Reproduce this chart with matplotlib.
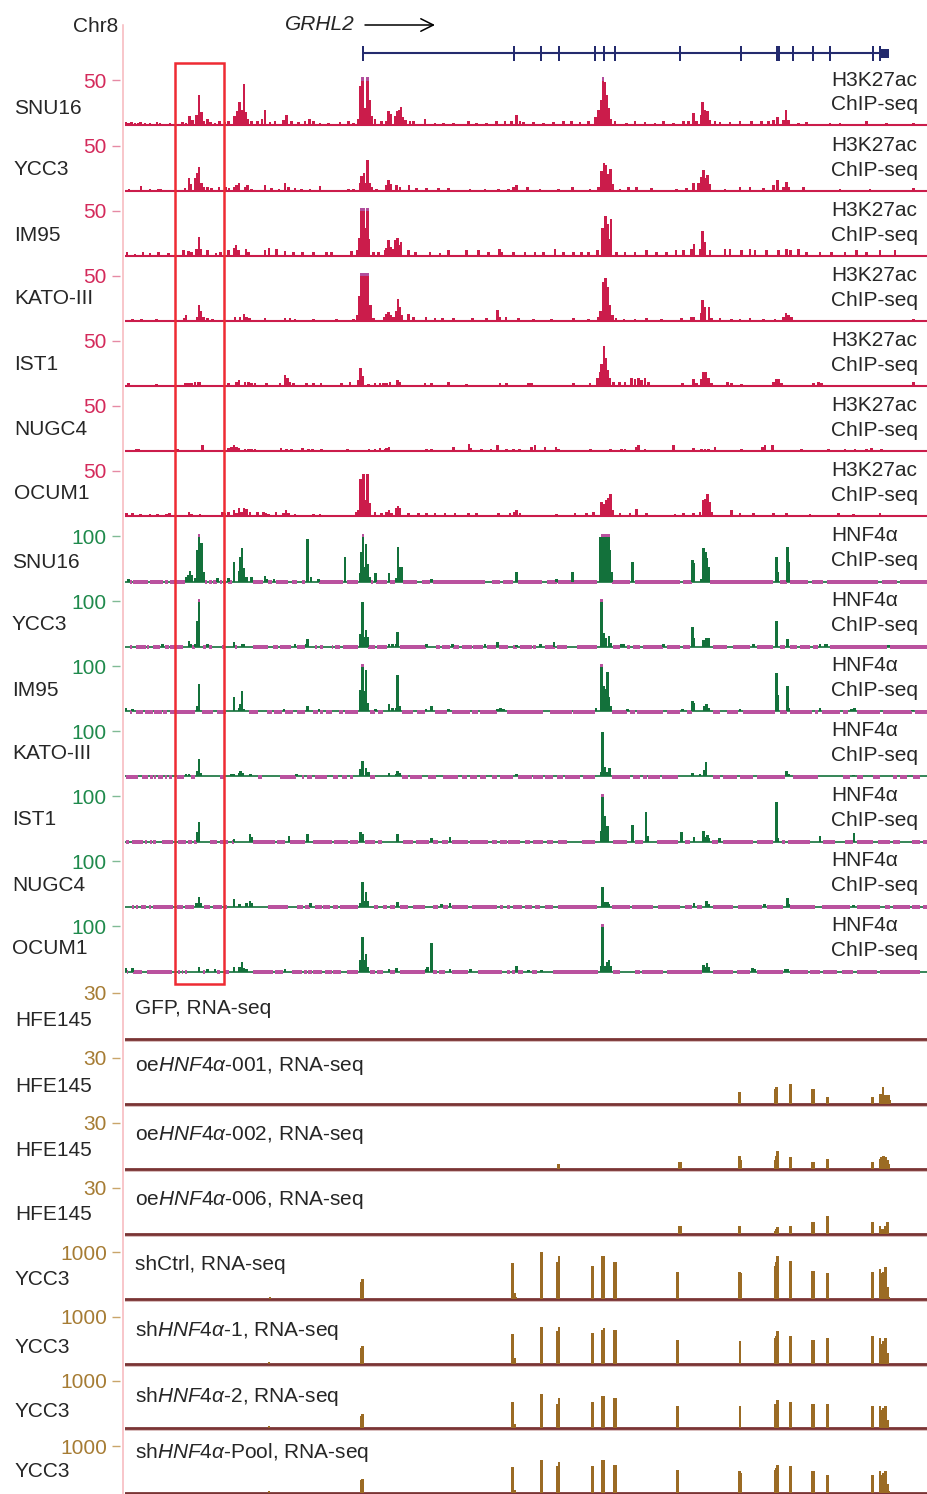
import matplotlib
matplotlib.use("Agg")
import matplotlib.pyplot as plt
from matplotlib.lines import Line2D
from matplotlib.patches import Rectangle

plt.rcParams['font.family'] = ['Liberation Sans', 'DejaVu Sans']
plt.rcParams['mathtext.fontset'] = 'custom'
plt.rcParams['mathtext.rm'] = 'Liberation Sans'
plt.rcParams['mathtext.it'] = 'Liberation Sans:italic'

# positions are in kb from the left edge of the window, values in track units
GENE_START, GENE_END = 119, 381
EXON_POS = [119, 194.5, 208, 217, 235, 239.5, 245, 277.5, 308, 326.5, 334, 344, 352.5, 374, 377.5]
EXON_W = [1, 1, 1, 1, 1, 1, 1, 1, 1, 2, 1, 1, 1, 1, 1]
UTR_END = (378, 382)
BOX = (24.75, 49.5)

# H3K27ac ChIP-seq (scale 50)
K27_SNU16 = [(0.5,3),(1.7,2),(3.3,3),(5,2),(6.7,2),(7.8,3),(10,2),(12.5,2),(16,3),(17.5,2),(22.5,2),(28.8,3),(30.5,2),(32.2,10),(33.8,6),(35.8,11),(37,33),(38.3,14),(39.2,4),(41.2,7),(42.8,3),(45,2),(47.2,4),(50,3),(51.7,4),(54.7,10),(56,16),(57.2,26),(58.5,17),(59.5,46),(60.3,14),(61.5,7),(63.3,4),(66.2,4),(68.5,7),(70,17),(72.5,3),(75,5),(79.2,6),(80.8,11),(83.3,4),(86.7,3),(90,4),(92.2,7),(94.2,4),(97.5,2),(101.7,2),(107.5,3),(111.7,4),(114.2,2),(116.7,7),(117.7,43),(118.8,60),(120.2,19),(121.3,60),(122.3,28),(123.2,10),(125,7),(128.3,4),(130.8,4),(131.8,16),(132.8,12),(135,10),(136,15),(137,17),(138,20),(139,9),(140.2,6),(142.5,4),(144.2,4),(150,7),(155,2),(159.2,2),(164.2,2),(171.7,4),(175.8,2),(180.8,2),(185.8,4),(190,4),(193.3,4),(195.8,11),(197.5,4),
             (199.2,3),(204.2,3),(209.2,2),(214.2,3),(219.2,4),(223.3,4),(227.5,3),(231.7,4),(235.2,9),(236.8,17),(238,28),(239,56),(240,48),(241,33),(242,19),(243,7),(245,4),(250.8,2),(255,4),(260,3),(265,2),(269.2,4),(274.2,2),(279.2,4),(281.7,4),(284.2,13),(285.8,4),(288,11),(288.8,25),(290,17),(291.3,15),(292.5,6),(295,4),(297.5,3),(302.5,3),(307.5,4),(313.3,4),(318.3,4),(321.7,4),(324.2,6),(326.2,9),(329.2,6),(330.5,17),(331.7,6),(336.7,2),(340.8,3),(352.5,2),(357.5,2),(370.8,4),(380.8,2),(394.2,2)]
K27_YCC3 = [(2,2),(8,5),(12.5,2),(16.7,2),(18,2),(30,3),(32,14),(33,7),(35,14),(36,20),(37,26),(38.3,9),(39.5,4),(41.2,4),(43.3,3),(47,4),(50.5,4),(52,3),(54.5,4),(55.8,6),(57,8),(60,4),(61.3,6),(63.3,2),(70,6),(73.3,3),(77,2),(80,8),(81.7,4),(85,3),(88.3,2),(92.5,2),(97.5,5),(111.7,2),(114.2,2),(117.5,8),(118.3,16),(119.5,20),(120.3,9),(121.3,34),(122.3,8),(123.5,4),(125.8,2),(130.8,6),(131.8,12),(132.8,7),(135.8,6),(137.5,4),(142,6),(145.8,3),(150.8,3),(156.7,3),(161.7,3),(172.5,2),(180,2),(186.7,2),(191.7,2),(194.2,4),(195.8,6),(201.2,4),
            (207.5,2),(216.7,2),(223.8,4),(232.5,2),(236.7,4),(238.3,22),(239.5,31),(240.5,28),(241.7,19),(242.8,24),(243.8,7),(247.5,2),(251.7,4),(255.8,4),(263.3,3),(275.8,2),(280.8,3),(284.2,8),(286.7,9),(288,15),(289.2,23),(290.3,14),(291.3,17),(292.5,7),(300,2),(307.5,4),(312.5,4),(319.2,3),(324.2,6),(326.2,12),(329.2,4),(330.8,10),(332,4),(339.2,4),(357.5,2),(372.5,2),(394.2,3)]
K27_IM95 = [(1,4),(5,2),(9,4),(12.5,3),(16.7,4),(21.7,3),(29.2,6),(31.7,5),(33.3,4),(35.8,8),(37,21),(38,8),(41.2,6),(45.5,3),(47.8,4),(51.7,6),(54.5,9),(55.5,12),(56.7,6),(60.5,8),(61.7,4),(70,6),(72,9),(75.8,8),(80,5),(84.2,4),(88.8,4),(94.2,4),(100.8,4),(103.3,4),(113.3,5),(116.2,6),(117.2,20),(118,60),(119.2,60),(120.3,31),(121.3,60),(122,19),(124.2,4),(126.7,4),(130,6),(130.8,9),(131.8,17),(133,10),(134.2,8),(135.2,17),(136.2,20),(137.2,12),(138,15),(141.7,6),(145.2,4),(152.5,4),(157.5,3),(161.7,6),(170.8,6),(176.7,6),(181.7,4),(187.2,8),(188.3,4),(194.2,4),(200,4),
            (205,4),(209.2,4),(215,7),(219.2,4),(224.2,4),(228.3,4),(231.7,4),(236.2,6),(238.8,31),(240.2,44),(241.2,35),(242.2,19),(243,41),(245.8,4),(250,4),(255,4),(260.8,6),(265.8,4),(270.8,4),(275.5,6),(279.2,6),(283.3,7),(284.5,13),(287.5,8),(288.8,28),(290,15),(292.5,6),(300,7),(302.5,7),(308.3,6),(312.5,7),(315,6),(320.8,6),(326.7,6),(330.8,7),(332.8,6),(336.7,7),(340.8,4),(347.5,4),(353.3,4),(360,4),(365.8,6),(370.8,4),(377.5,6),(385,6)]
K27_KATO = [(3.8,2),(8.3,2),(15.8,2),(29.5,3),(30.5,6),(36.2,4),(37,17),(38,11),(39.2,4),(41.2,3),(43.8,2),(55,4),(57.5,4),(59.5,8),(60.8,4),(62.2,3),(70,3),(80,3),(82.5,3),(85,2),(94.2,2),(105.8,2),(114.2,2),(116.2,6),(117.2,28),(118.2,60),(119.3,60),(120.5,60),(121.5,60),(122.7,17),(124.2,3),(129.7,4),(130.8,8),(131.8,10),(132.8,6),(134.2,4),(135.5,11),(136.5,24),(137.5,15),(138.3,6),(141.8,7),(144.2,4),(150.5,4),(155,3),(158.8,3),(164.2,3),(173.8,3),(180.8,3),(186.3,12),(187.5,4),(190.5,4),(196.7,3),
            (204.2,2),(213.3,2),(224.2,3),(231.7,2),(236.7,4),(237.8,11),(239.2,43),(240.3,47),(241.3,37),(242.5,17),(243.8,6),(245.5,3),(249.5,2),(255,2),(260.8,3),(268.3,2),(278.3,3),(283.3,4),(284.5,4),(288,9),(288.8,23),(290,15),(292,15),(293.3,3),(297.5,3),(303.3,2),(307.5,2),(312.5,3),(319.2,2),(325,2),(329.2,4),(330.5,9),(331.7,6),(333.3,4),(394.2,2)]
K27_IST1 = [(1.7,3),(15.8,2),(30.3,3),(31.7,3),(33.3,3),(35,4),(36.7,4),(37.5,4),(51.7,3),(55.8,4),(57,6),(60,4),(61.7,4),(63.3,3),(65,3),(70.8,3),(77.5,3),(80,12),(81.2,9),(82.5,4),(84.2,3),(90.8,3),(94.2,3),(98,3),(108.3,3),(112.5,4),(116.7,6),(117.8,20),(118.8,11),(121.7,2),(125,3),(127.5,3),(129.2,3),(130.8,3),(132.5,4),(136.2,6),(137.5,4),(150,3),(153.3,3),(161.7,4),(170.8,2),(187.5,3),(190.8,3),
            (201.7,3),(203.3,3),(224.2,3),(232.5,3),(236.2,9),(237.5,15),(238.3,24),(239.5,44),(240.5,31),(241.5,17),(242.5,9),(244.2,4),(247.2,4),(250,4),(253.3,9),(255,8),(256.7,9),(258.3,6),(260,9),(261.7,4),(278.8,3),(284.2,8),(285.8,3),(288,7),(289.2,15),(290.5,15),(291.7,9),(293.3,3),(301.3,4),(303.3,3),(308.3,2),(324.2,4),(325.5,7),(326.7,8),(328.3,3),(344.2,3),(346.7,4),(348.3,3),(394.2,4)]
K27_NUGC4 = [(5.8,2),(6.7,2),(26.2,2),(38.8,6),(51.7,3),(53.3,4),(54.5,6),(55.8,4),(57,3),(60,2),(61.7,2),(63.3,2),(65,2),(78,3),(80.8,2),(83.3,2),(88.8,3),(91.7,2),(93.8,2),(98.3,2),(111.3,2),(122,2),(125,2),(127.5,3),(130,2),(130.8,3),(132,4),(150.8,2),(153.3,2),(164.2,4),(172,8),(172.8,3),(178.3,2),(183,2),(186.3,6),(190.8,2),(194.2,2),(197.2,2),
             (203.3,4),(205,6),(210,4),(215.5,4),(216.7,2),(232.8,2),(242.8,2),(248.3,2),(250,2),(255.8,4),(256.7,6),(260,2),(274.2,6),(284.2,3),(288.3,2),(290,2),(291.7,2),(295,4),(308.3,2),(318.7,4),(320,6),(323.8,6),(338.3,2),(351.7,2),(360,2),(365,2),(370.8,2),(373.3,3),(378.3,2)]
K27_OCUM1 = [(0.8,3),(3.8,3),(7.8,2),(12.5,2),(16.2,2),(20.8,2),(22.2,3),(32,4),(33.3,2),(37.5,2),(48.8,4),(50,3),(51.7,4),(54.5,6),(55.8,3),(57,8),(58.3,4),(59.5,9),(60.8,7),(62.5,4),(66.2,4),(69.2,4),(70.2,3),(71.7,2),(75.5,4),(79.2,3),(80.5,6),(81.7,3),(85,2),(94.2,2),(97.5,2),(115.8,4),(116.7,6),(117.8,41),(119.2,46),(120.2,17),(121.3,46),(122.2,14),(125,4),(128.3,3),(130.8,4),(132,6),(133.3,3),(135.8,8),(136.5,11),(137.5,8),(141.7,3),(146.7,3),(150.8,3),(155,3),(160,3),(165,3),(171.7,3),(175.8,3),(186.7,3),(192.5,3),(194.7,4),(195.8,6),(197.5,3),
             (215.8,2),(225,3),(230.8,3),(234.2,4),(238.3,15),(239.5,13),(240.5,17),(241.7,20),(242.8,24),(243.8,6),(247.5,3),(252.5,3),(255.8,7),(260.8,3),(275,2),(279.2,3),(284.2,3),(287.5,4),(289,17),(290,19),(291.2,24),(292.2,15),(293.3,4),(303.3,6),(307.5,3),(314.2,3),(324.2,3),(330.8,3),(342.5,2),(356.7,3),(364.2,2),(377.5,3)]

# HNF4a ChIP-seq (scale 100)
H4_SNU16 = [(1.7,6),(30.8,9),(31.7,15),(32.5,24),(33.3,15),(35,7),(36,70),(37,120),(38.3,86),(39.2,22),(46.3,7),(51.7,7),(54.5,42),(57,24),(57.5,53),(58.5,75),(59.5,29),(60.8,9),(63.3,9),(70,13),(70.8,6),(74.5,6),(91.3,93),(93,10),(96.7,6),(110,54),(117.5,18),(118.2,66),(119,120),(119.7,31),(120.5,82),(121.3,39),(122.2,11),(125.3,18),(132,18),(135.8,7),(136.5,77),(137.5,31),(138.3,31),(153.3,6),(195.8,21),
            (215.8,6),(223.8,21),(237.7,99),(238.7,120),(239.7,120),(240.7,120),(241.7,120),(242.5,70),(243.2,21),(253.7,42),(283.8,48),(284.5,40),(288.3,6),(289.2,75),(290.2,66),(291,51),(292,31),(325.8,53),(326.3,21),(331.3,77),(332,42)]
H4_YCC3 = [(18.8,6),(32,13),(32.8,6),(35,6),(36,57),(37,120),(41.2,6),(54.5,9),(58.8,6),(59.5,6),(85,6),(90.5,6),(91.3,17),(117.8,28),(118.8,99),(119.7,21),(120.5,37),(121.3,20),(132,6),(133.7,6),(135.5,6),(136.3,31),(150.8,6),(163.8,6),(180,6),(186.3,9),(195.8,4),
           (207.8,6),(214.5,9),(238.3,120),(239.5,29),(240.5,18),(242,24),(242.8,7),(248.3,6),(249.2,6),(269.2,6),(283.8,42),(284.5,18),(289.2,15),(290,6),(290.8,18),(291.8,18),(314.2,6),(325.8,57),(331.3,17),(347.5,6),(350,6),(350.8,6),(381.7,4)]
H4_IM95 = [(0.3,7),(3.8,6),(36,13),(37,60),(54.5,31),(57,7),(57.5,17),(58.5,46),(59.5,6),(79.5,6),(91.3,13),(97,6),(117.8,48),(118.8,120),(119.7,46),(120.5,92),(121.3,18),(125.3,6),(132,17),(133.7,7),(135.5,7),(136.3,81),(137.2,13),(150.5,6),(153.3,13),(161.7,6),(186.3,6),(187.8,7),(189.2,6),
           (235.5,7),(238.3,120),(239.2,57),(240.2,50),(241.2,87),(242,33),(242.8,13),(251.3,6),(278.8,6),(283.8,24),(284.5,18),(289.5,13),(290.8,16),(291.8,7),(307.5,6),(325.8,86),(326.3,37),(331.3,57),(332,7),(347.5,7),(363.3,6),(364.7,7),(393.8,4)]
H4_KATO = [(30.5,6),(32,6),(36,13),(37,38),(38,7),(53.3,6),(54.5,6),(57,7),(57.8,13),(58.7,7),(62.8,6),(85.8,6),(117.8,17),(118.8,35),(120.5,18),(121.7,9),(132,7),(135.5,6),(136.3,13),(137.2,7),(195.8,6),
           (238.3,9),(238.8,98),(240,21),(241.2,11),(242.2,18),(283.7,7),(287.5,6),(289.5,15),(290.5,31),(330.8,13),(331.7,6),(364.2,4)]
H4_IST1 = [(36,20),(37,42),(54.5,6),(62.5,17),(63.3,9),(82,13),(91.3,17),(117.8,20),(118.8,17),(136.3,17),(153.3,7),(162.5,9),
           (238,24),(238.8,120),(239.7,57),(240.5,7),(241.3,35),(253.8,37),(260.5,66),(261.3,13),(278.3,20),(284.5,9),(289.2,24),(290,11),(291.2,15),(292,7),(297.2,7),(325.8,88),(326.3,7),(347.5,13),(364.5,18)]
H4_NUGC4 = [(35.8,7),(37,20),(38,7),(54.5,17),(57.2,6),(60.8,7),(62.5,13),(63.3,7),(92.8,7),(117.8,7),(118.8,55),(119.7,13),(120.5,31),(121.3,13),(136.3,9),(158.3,6),(162.5,7),
            (238.8,42),(239.7,9),(241.2,9),(242,6),(284.5,7),(290.8,13),(291.7,6),(319.7,6),(331.3,18),(332,6),(364.2,4)]
H4_OCUM1 = [(0.3,7),(3.8,7),(37,9),(41.2,6),(45,6),(54.5,9),(57.2,9),(58.5,20),(59.5,7),(60.8,6),(80,6),(117.8,26),(118.8,77),(119.7,26),(120.5,38),(121.3,11),(132,6),(135.8,7),(150.5,6),(151.3,9),(153.3,64),(162.5,6),(172.8,6),(195.8,13),
            (201.7,4),(208.3,4),(238,13),(238.8,120),(239.7,13),(240.5,7),(241.2,21),(242,26),(242.8,13),(289.2,15),(290.2,11),(291,18),(292,9),(313.8,7),(314.7,6),(330,6),(331.3,6)]

# stretches drawn in magenta under the HNF4a baselines (start, end)
MG_SNU16 = [(2.5,3.3),(4.2,11.7),(12.5,19.2),(20,21.7),(22.5,30),(40,41.2),(42.2,43.3),(44.2,45.8),(47.5,48.3),(49.2,50.5),(51.7,53.3),(63.8,69.2),(71.7,73.3),(75.5,81.7),(83.3,85.8),(88.3,90),(97.2,109.2),(110.8,116.7),(122.8,124.2),(125.5,130.8),(132.5,135),(139.2,145.8),(148.3,152.5),(154.2,180),(183.3,187.5),(189.2,194.2),(196.7,208.3),(210.8,215.8),(216.7,235.8),(243.3,252.5),(255,277.5),(279.2,283.3),(292.5,324.2),(327.5,330.8),(332.5,341.7),(343.3,349.2),(350.8,376.7),(378.3,385.8),(387.5,400.8)]
MG_YCC3 = [(2.5,3.3),(5.5,10.5),(11.2,12.2),(14.2,17.5),(20,22.2),(22.5,29.2),(33.3,35),(39.2,40.3),(42.2,43.3),(48.3,50),(55,56.2),(64.2,71.7),(73.8,76.7),(77.5,82.8),(85.8,90),(95,95.8),(97.5,99.2),(103.3,104.2),(105,107.5),(108.8,116.7),(121.7,125),(126.2,130.8),(137.5,150.5),(155.5,157.5),(158.3,162.5),(164.2,167.2),(168.3,173.3),(174.2,179.2),(180.8,185.5),(187.2,191.7),(194.2,195.8),(197.5,203.3),(204.2,205.5),(210,215),(215.8,220.8),(225.8,235.8),(244.2,247.5),(250.8,252.5),(254.2,257.5),(259.2,269.2),(270.8,277.5),(279.2,282.5),(294.2,300.8),(304.2,312.5),(315.8,324.2),(327.5,330),(332.5,335.8),(337.5,342.5),(344.2,346.7),(352.5,380.8),(382.5,400.8)]
MG_IM95 = [(2.5,3.3),(5.5,8.8),(10,13.8),(14.5,18.3),(19.2,20.8),(22.5,35),(38.3,44.2),(45.8,50.5),(62.2,66.7),(70.8,73.3),(74.5,78.3),(80,84.2),(85.8,90),(93.8,96.7),(97.5,99.2),(100.5,103.3),(107.2,109.2),(110,116.7),(122.5,125),(126.7,129.2),(138.3,144.2),(145.8,150),(155,160.8),(163.3,172.5),(173.3,176.7),(177.5,185.8),(190.8,209.2),(212.5,223.3),(224.2,235),(243.3,250.8),(252.5,255),(255.8,269.2),(270.8,277.5),(280.8,283.3),(294.2,297.5),(300.8,306.7),(309.2,325),(327.5,330.8),(332.5,343.3),(345,346.7),(348.3,357.5),(359.2,361.7),(365.8,377.5),(379.2,393.3),(395,401.5)]
MG_KATO = [(0.5,6.7),(8.3,11.7),(12.5,13.8),(14.5,15.5),(16.7,18.8),(20,20.8),(22.2,23.3),(25.8,29.5),(32.8,35),(47.5,49.5),(66.7,68.3),(77.5,85.3),(88.3,89.7),(91.2,93.3),(95,100.8),(104.2,106.7),(108.3,110.8),(112.5,114.2),(122.5,125),(138.3,141.7),(142.5,148.3),(151.7,155.5),(159.2,166.7),(168.3,170.8),(172.5,175.8),(177.5,180.5),(183.3,185.8),(187.5,194.2),(196.7,203.3),(204.2,209.2),(210,214.2),(215.8,219.2),(220,227.5),(229.2,235),(243.3,252.5),(254.2,257.5),(259.2,260.8),(261.7,267.5),(268.3,276.7),(294.2,297.5),(299.2,305.8),(307.5,314.2),(315.8,330),(334.2,346.7),(359.2,362.5),(365.8,369.2),(374.2,377.5),(384.2,385.8),(387.5,390.8),(394.2,397.5)]
MG_IST1 = [(0.5,2.2),(3.3,8.8),(10,10.8),(12.5,13.3),(14.2,15.5),(18.3,24.2),(26.7,30.5),(31.7,33.3),(34.5,35.8),(42.5,46.2),(47.5,51.7),(53.3,54.5),(64.2,75),(75.8,80),(82.5,90),(93.8,103.3),(104.5,111.3),(112.5,116.7),(120,125),(126.7,128.3),(138.8,144.2),(145.5,152.2),(154.2,156.7),(158.3,161.7),(163.3,171.7),(172.5,181.7),(183.3,185.8),(187.5,190.8),(191.7,197.5),(200,202.5),(204.2,209.2),(210.8,214.2),(216.7,220.8),(228.3,235),(244.2,250.8),(255,259.2),(265.8,276.7),(280,282.5),(293.3,296.7),(299.2,314.2),(315.8,324.2),(328.3,330),(331.7,342.5),(349.2,355),(360,364.2),(365.8,374.2),(376.7,382.5),(384.2,387.5),(393.3,397.5),(399.2,401.5)]
MG_NUGC4 = [(3.3,4.5),(5.5,6.7),(7.8,10.5),(12.2,12.8),(14.2,24.2),(26.2,29.2),(30,34.5),(39.5,42.5),(43.8,48.3),(49.5,50.8),(71.7,81.7),(85.8,89.2),(90,92.5),(95,98.3),(99.2,102.5),(104.2,106.7),(107.5,116.7),(124.5,126.7),(129.2,130.8),(132.5,135),(137.5,141.7),(143.8,150),(153.8,156.7),(159.2,161.7),(163.3,171.7),(173.3,185.8),(187.5,189.2),(190.8,192.5),(194.2,198.3),(200,203.3),(205,207.5),(210,213.8),(216.7,235.8),(243.3,252.5),(253.3,264.2),(266.7,277.5),(280,283.3),(285.8,288.3),(294.2,304.2),(306.7,318.3),(320.8,329.2),(332.5,345),(348.3,362.5),(365.8,377.5),(380,382.5),(384.2,392.5),(393.3,397.5),(399.2,401.5)]
MG_OCUM1 = [(0.8,1.7),(4.2,8.3),(10.8,23.3),(26.7,27.5),(28.3,29.2),(30,30.8),(38.8,40),(45.8,47.5),(50,52.2),(64.2,74.2),(75,79.2),(83.3,88.3),(89.5,90.8),(91.7,93.3),(94.2,98.3),(100,103.3),(104.2,107.8),(110.8,116.7),(122.5,125),(126.2,129.2),(132.5,135),(137.5,150),(154.2,155.8),(157.2,160),(163.3,171.7),(176.7,188.3),(190.8,192.5),(193.3,195),(196.7,199.2),(203.3,205.8),(214.2,236.7),(244.2,247.5),(255,257.5),(258.3,269.2),(270.8,288.3),(294.2,304.2),(305.8,312.5),(315.8,329.2),(332.5,341.7),(342.5,347.5),(349.2,355.8),(358.3,364.2),(365.8,375.8),(377.5,397.5)]

# RNA-seq (HFE145 scale 30, YCC3 scale 1000)
RNA_GFP = []
RNA_OE001 = [(307.3,7.5),(325,9.7),(325.8,10.8),(332.8,12.9),(343.8,9.7),(344.5,9.7),(351.2,4.3),(373.8,4.3),(377.5,6.5),(378.3,6.5),(379,10.8),(380,6),(380.8,6),(381.7,6),(382.2,2.6)]
RNA_OE002 = [(216.7,3.2),(277,4.3),(277.7,4.3),(307.3,8.2),(308,6),(325,6),(325.7,8.2),(326.3,11.4),(332.8,7.5),(343.8,4.7),(344.5,4.7),(351.2,6.5),(373.8,4.3),(377.5,6.5),(378.3,7.5),(379.2,8.2),(380.2,7.5),(381.2,6),(381.8,3.2)]
RNA_OE006 = [(277,5.4),(277.7,5.4),(307.3,5.4),(325,1.7),(325.8,3.2),(326.3,4.7),(332.8,5.4),(343.7,8),(344.5,8),(351.3,11.8),(373.8,8),(377.5,5.4),(378.3,3.2),(379.2,3.2),(380.3,5.4),(381.3,8)]
RNA_SHCTRL = [(72.5,43),(118,358),(118.8,409),(193.8,753),(194.7,129),(195.5,43),(208.3,990),(216.3,789),(217,918),(233.8,703),(238.8,918),(239.5,918),(244.5,789),(245.5,789),(276.3,574),(307.3,574),(308,538),(325,703),(325.7,789),(326.3,918),(332.8,810),(343.5,595),(344.5,595),(351.2,538),(373.8,574),(377.5,645),(378.3,538),(379,574),(379.7,466),(380.3,681),(381.2,251),(382,36)]
RNA_SH1 = [(72,43),(118,323),(118.8,373),(193.8,645),(194.8,108),(208.3,789),(216.3,703),(217,789),(233.8,660),(238.8,717),(239.5,767),(244.8,717),(245.5,717),(276.3,502),(307.5,488),(325,552),(325.7,595),(326.3,703),(332.8,595),(343.5,502),(344.5,502),(351.2,552),(373.8,595),(377.5,552),(378.3,430),(379,488),(379.7,430),(380.3,552),(381.2,229)]
RNA_SH2 = [(72,29),(118,251),(118.8,287),(193.8,559),(194.7,72),(208.3,731),(216.3,516),(217,624),(233.8,559),(238.8,688),(239.5,688),(244.8,645),(245.5,645),(276.3,452),(307.5,452),(325,516),(325.7,516),(326.3,581),(332.8,559),(343.5,516),(344.5,516),(351.2,516),(373.8,473),(377.5,452),(378.3,387),(379,430),(379.7,344),(380.3,473),(381.2,158)]
RNA_POOL = [(72,36),(118,272),(118.8,301),(193.8,538),(194.7,57),(208.3,703),(216.3,574),(217,660),(233.8,574),(238.8,703),(239.5,703),(244.8,595),(245.5,595),(276.3,488),(307.3,466),(308,430),(325,488),(325.7,531),(326.3,595),(332.8,574),(343.5,466),(344.5,466),(351.2,380),(373.8,380),(377.5,466),(378.3,380),(379,430),(379.7,358),(380.3,466),(381.2,179),(382,36)]

CELLS = ["SNU16", "YCC3", "IM95", "KATO-III", "IST1", "NUGC4", "OCUM1"]
K27_TRACKS = [K27_SNU16, K27_YCC3, K27_IM95, K27_KATO, K27_IST1, K27_NUGC4, K27_OCUM1]
H4_TRACKS = [H4_SNU16, H4_YCC3, H4_IM95, H4_KATO, H4_IST1, H4_NUGC4, H4_OCUM1]
H4_MAGENTA = [MG_SNU16, MG_YCC3, MG_IM95, MG_KATO, MG_IST1, MG_NUGC4, MG_OCUM1]
RNA_TRACKS = [RNA_GFP, RNA_OE001, RNA_OE002, RNA_OE006, RNA_SHCTRL, RNA_SH1, RNA_SH2, RNA_POOL]
RNA_CELLS = ["HFE145"] * 4 + ["YCC3"] * 4
RNA_SCALE = [30, 30, 30, 30, 1000, 1000, 1000, 1000]
RNA_NAMES = ["GFP, RNA-seq", r"oe$\mathit{HNF4α}$-001, RNA-seq", r"oe$\mathit{HNF4α}$-002, RNA-seq",
             r"oe$\mathit{HNF4α}$-006, RNA-seq", "shCtrl, RNA-seq", r"sh$\mathit{HNF4α}$-1, RNA-seq",
             r"sh$\mathit{HNF4α}$-2, RNA-seq", r"sh$\mathit{HNF4α}$-Pool, RNA-seq"]

# colours
C_K27, C_K27_LAB, C_K27_TICK = "#CB1C4B", "#D42A5B", "#E68AA4"
C_CAP = "#B24E9C"
C_H4, C_H4_LAB, C_H4_TICK = "#13713B", "#1F8A4C", "#80BB95"
C_MAG = "#BA529F"
C_RNA, C_RNA_LAB, C_RNA_TICK = "#9B6B24", "#A67C34", "#C9A56A"
C_RNA_BASE, C_RNA_SHADE = "#7A3434", "#D2B0B0"
C_GENE = "#242B6E"
C_TXT = "#262626"

W, H = 928, 1494
X0, X1 = 125, 928
XMAX = (X1 - X0) / 2.0
BAR_W = 1.25

fig = plt.figure(figsize=(W / 100, H / 100), dpi=100)


def ftext(x, y, s, **kw):
    kw.setdefault("fontsize", 15)
    kw.setdefault("color", C_TXT)
    kw.setdefault("va", "center")
    fig.text(x / W, 1 - y / H, s, **kw)


def track_axes(base, top_px, below_px, vpp):
    ax = fig.add_axes([X0 / W, 1 - (base + below_px) / H, (X1 - X0) / W, (top_px + below_px) / H])
    ax.set_xlim(0, XMAX)
    ax.set_ylim(-below_px * vpp, top_px * vpp)
    ax.set_facecolor("none")
    for s in ["top", "right", "bottom"]:
        ax.spines[s].set_visible(False)
    ax.spines["left"].set_position(("outward", 3.6))
    ax.spines["left"].set_visible(False)
    ax.set_xticks([])
    return ax


def set_scale(ax, value, lab_color, tick_color):
    ax.set_yticks([value])
    ax.set_yticklabels([str(value)])
    ax.tick_params(axis="y", length=5.8, width=1.0, color=tick_color,
                   labelcolor=lab_color, labelsize=15, pad=3.6)


def draw_bars(ax, data, color, vpp, top_px, cap_color=None):
    clip = top_px * vpp
    xs = [p for p, v in data]
    hs = [min(v, clip) for p, v in data]
    ax.bar(xs, hs, width=BAR_W, color=color, linewidth=0, zorder=2)
    over = [p for p, v in data if v > clip]
    if over and cap_color:
        cap = 3.4 * vpp
        ax.bar(over, [cap] * len(over), width=BAR_W, bottom=clip - cap,
               color=cap_color, linewidth=0, zorder=3)


# H3K27ac tracks
k27_base = [125, 190.7, 255.7, 320.7, 385.7, 450.7, 515.7]
k27_name_dy = [-16, -21, -20, -22, -21, -21, -22]
for i, data in enumerate(K27_TRACKS):
    vpp = 50 / 45.0
    ax = track_axes(k27_base[i], 47.7, 4, vpp)
    ax.axhline(0, color=C_K27, lw=1.5, zorder=1)
    draw_bars(ax, data, C_K27, vpp, 47.7, C_CAP)
    set_scale(ax, 50, C_K27_LAB, C_K27_TICK)
    ftext(14, k27_base[i] + k27_name_dy[i], CELLS[i])
    ftext(831, k27_base[i] - 45, "H3K27ac")
    ftext(831, k27_base[i] - 20, "ChIP-seq")

# HNF4a tracks
h4_base = [581.5, 646.5, 711.5, 776.5, 841.5, 906.5, 971.5]
h4_name_dy = [-18.5, -22.5, -21.5, -23.5, -22.5, -21.5, -22.5]
for i, data in enumerate(H4_TRACKS):
    vpp = 100 / 45.3
    ax = track_axes(h4_base[i], 47.7, 4, vpp)
    ax.axhline(0, color=C_H4, lw=1.2, zorder=1)
    segs = [(a, b - a) for a, b in H4_MAGENTA[i]]
    ax.broken_barh(segs, (-2.6 * vpp, 3.9 * vpp), facecolors=C_MAG, linewidth=0, zorder=1.5)
    draw_bars(ax, data, C_H4, vpp, 47.7, C_MAG)
    set_scale(ax, 100, C_H4_LAB, C_H4_TICK)
    ftext(12, h4_base[i] + h4_name_dy[i], CELLS[i])
    ftext(831, h4_base[i] - 46, "HNF4α")
    ftext(831, h4_base[i] - 21, "ChIP-seq")

# RNA-seq tracks
rna_base = [1039, 1104, 1169, 1234, 1298.5, 1363.5, 1427.5, 1492.5]
rna_name_dy = [-19, -18, -18, -19, -19, -16, -16, -21]
rna_label_y = [1008, 1066, 1135, 1200, 1265, 1330, 1396, 1453]
for i, data in enumerate(RNA_TRACKS):
    vpp = RNA_SCALE[i] / 46.5
    ax = track_axes(rna_base[i], 48, 4, vpp)
    ax.axhline(-2.2 * vpp, color=C_RNA_SHADE, lw=1.2, zorder=1)
    ax.axhline(0, color=C_RNA_BASE, lw=2.0, zorder=1.2)
    draw_bars(ax, data, C_RNA, vpp, 48)
    set_scale(ax, RNA_SCALE[i], C_RNA_LAB, C_RNA_TICK)
    ftext(15, rna_base[i] + rna_name_dy[i], RNA_CELLS[i])
    ftext(135, rna_label_y[i], RNA_NAMES[i])

# gene model
gax = fig.add_axes([X0 / W, 1 - 66 / H, (X1 - X0) / W, 26 / H])
gax.set_xlim(0, XMAX)
gax.set_ylim(-13, 13)
gax.axis("off")
gax.plot([GENE_START, GENE_END], [0, 0], color=C_GENE, lw=1.5, solid_capstyle="butt")
gax.bar(EXON_POS, 15, width=EXON_W, bottom=-7.5, color=C_GENE, linewidth=0)
gax.bar((UTR_END[0] + UTR_END[1]) / 2, 9, width=UTR_END[1] - UTR_END[0], bottom=-4.5,
        color=C_GENE, linewidth=0)

# overlay: gene name, arrow, highlight box
ov = fig.add_axes([X0 / W, 0, (X1 - X0) / W, 1])
ov.set_xlim(0, XMAX)
ov.set_ylim(H, 0)
ov.axis("off")
ov.set_zorder(5)
ov.text(80, 25, "GRHL2", fontsize=15, style="italic", color=C_TXT, ha="left", va="center")
ov.annotate("", xy=(155, 25), xytext=(120, 25),
            arrowprops=dict(arrowstyle="->,head_length=0.9,head_width=0.45",
                            lw=1.1, color="black", mutation_scale=10, shrinkA=0, shrinkB=0))
ov.add_patch(Rectangle((BOX[0], 63), BOX[1] - BOX[0], 921, fill=False,
                       edgecolor="#EE2B33", lw=1.8, zorder=6))

ftext(118, 27, "Chr8", ha="right")
fig.add_artist(Line2D([123 / W, 123 / W], [1 - 25 / H, 0], transform=fig.transFigure,
                      color="#F6B6BC", lw=1.1))

fig.savefig("out.png", dpi=100)
